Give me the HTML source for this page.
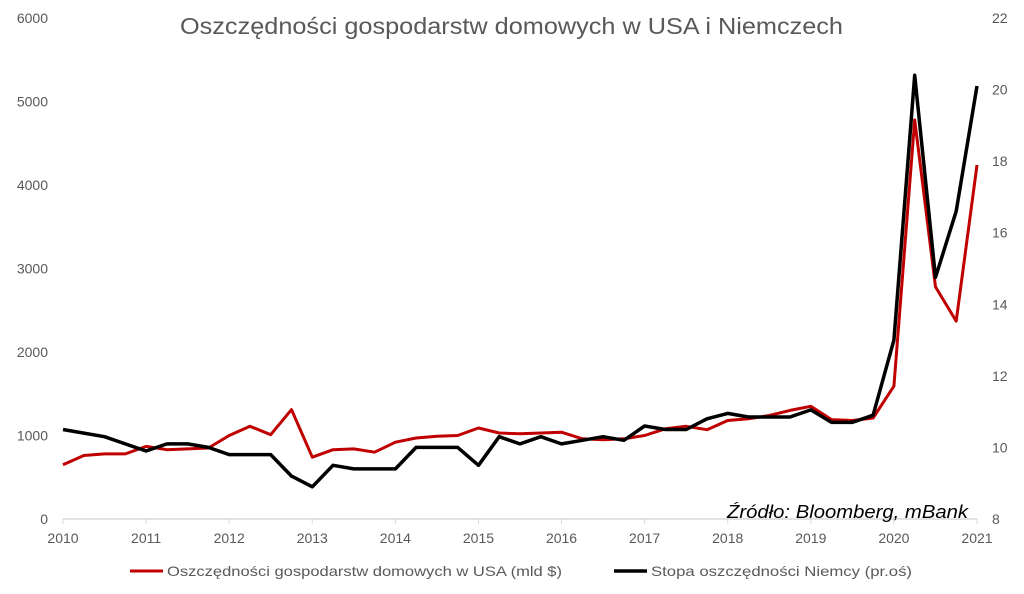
<!DOCTYPE html>
<html><head><meta charset="utf-8"><style>
html,body{margin:0;padding:0;background:#fff}
svg{display:block}
text{font-family:"Liberation Sans",sans-serif;fill:#595959}
</style></head><body>
<svg id="c" width="1024" height="594" xmlns="http://www.w3.org/2000/svg">
<text x="180" y="34" font-size="23" textLength="663" lengthAdjust="spacingAndGlyphs">Oszczędności gospodarstw domowych w USA i Niemczech</text>
<g font-size="14" text-anchor="end" id="ly"></g>
<g font-size="14" text-anchor="start" id="ry"></g>
<line x1="63" y1="519" x2="977" y2="519" stroke="#d9d9d9" stroke-width="1.5"/>
<g id="xt" font-size="14" text-anchor="middle"></g>
<polyline id="red" fill="none" stroke="#c00000" stroke-width="3" stroke-linejoin="round"/>
<polyline id="blk" fill="none" stroke="#000" stroke-width="3.5" stroke-linejoin="round"/>
<text x="727" y="518" font-size="18" font-style="italic" textLength="241" lengthAdjust="spacingAndGlyphs" style="fill:#000">Źródło: Bloomberg, mBank</text>
<line x1="130" y1="571" x2="163" y2="571" stroke="#c00000" stroke-width="3"/>
<text x="167" y="576" font-size="14" textLength="395" lengthAdjust="spacingAndGlyphs">Oszczędności gospodarstw domowych w USA (mld $)</text>
<line x1="614" y1="571" x2="647" y2="571" stroke="#000" stroke-width="3.5"/>
<text x="651" y="576" font-size="14" textLength="261" lengthAdjust="spacingAndGlyphs">Stopa oszczędności Niemcy (pr.oś)</text>
</svg>
<script>
var ns="http://www.w3.org/2000/svg";
function T(g,x,y,s){var t=document.createElementNS(ns,"text");t.setAttribute("x",x);t.setAttribute("y",y);t.textContent=s;document.getElementById(g).appendChild(t);}
for(var v=0;v<=6000;v+=1000){T("ly",48,519-v*501/6000+5,v);}
for(var r=8;r<=22;r+=2){T("ry",992,519-(r-8)*501/14+5,r);}
var xs=914/11;
for(var y=0;y<=11;y++){var x=63+y*xs;T("xt",x,543,2010+y);var l=document.createElementNS(ns,"line");l.setAttribute("x1",x);l.setAttribute("x2",x);l.setAttribute("y1",519);l.setAttribute("y2",524);l.setAttribute("stroke","#d9d9d9");document.getElementById("xt").appendChild(l);}
var red=[650,760,780,780,870,830,840,850,1000,1110,1010,1310,740,830,840,800,920,970,990,1000,1090,1030,1020,1030,1040,960,950,960,1000,1080,1110,1070,1180,1200,1240,1300,1350,1190,1180,1210,1590,4780,2780,2370,4240];
var blk=[10.5,10.4,10.3,10.1,9.9,10.1,10.1,10.0,9.8,9.8,9.8,9.2,8.9,9.5,9.4,9.4,9.4,10.0,10.0,10.0,9.5,10.3,10.1,10.3,10.1,10.2,10.3,10.2,10.6,10.5,10.5,10.8,10.95,10.85,10.85,10.85,11.05,10.7,10.7,10.9,13.0,20.4,14.75,16.6,20.1];
document.getElementById("red").setAttribute("points",red.map(function(v,i){return (63+i*xs/4).toFixed(1)+","+(519-v*501/6000).toFixed(1)}).join(" "));
document.getElementById("blk").setAttribute("points",blk.map(function(v,i){return (63+i*xs/4).toFixed(1)+","+(519-(v-8)*501/14).toFixed(1)}).join(" "));
</script>
</body></html>
